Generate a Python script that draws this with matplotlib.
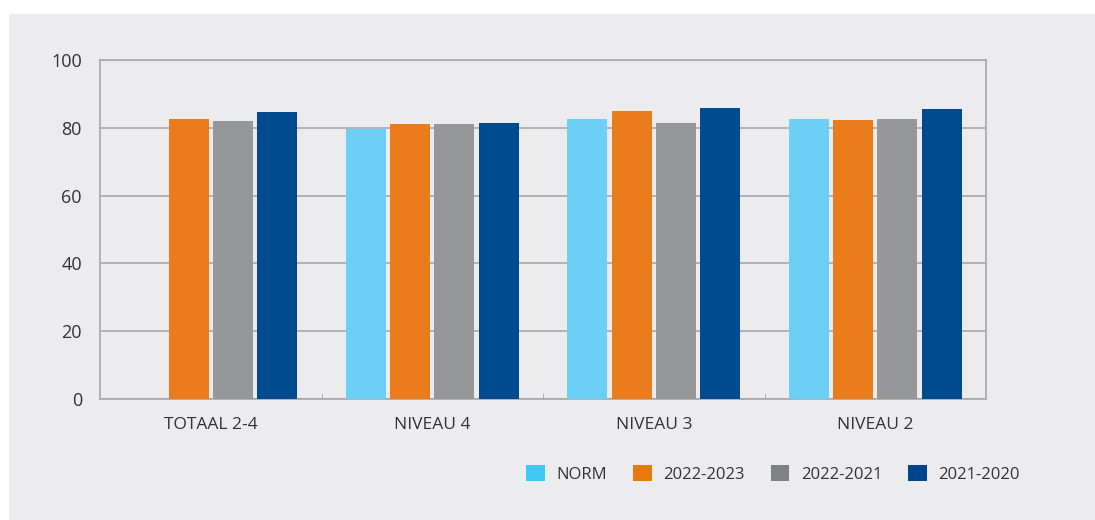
import numpy as np
import matplotlib.pyplot as plt
from matplotlib.patches import Rectangle, Patch

categories = ["TOTAAL 2-4", "NIVEAU 4", "NIVEAU 3", "NIVEAU 2"]
series_names = ["NORM", "2022-2023", "2022-2021", "2021-2020"]
norm = [np.nan, 79.6, 82.6, 82.6]
y2022_2023 = [82.6, 81.1, 85.0, 82.3]
y2022_2021 = [82.0, 81.1, 81.4, 82.6]
y2021_2020 = [84.7, 81.4, 85.8, 85.6]

bar_colors = ["#6ccff6", "#eb7c1e", "#969799", "#004a90"]
legend_colors = ["#3fc8f4", "#e67a10", "#808185", "#004589"]
bg = "#ececee"
grid_c = "#a8a8aa"
text_c = "#333333"

plt.rcParams["font.family"] = ["Open Sans", "DejaVu Sans"]

fig = plt.figure(figsize=(10.95, 5.2), dpi=100)
fig.patch.set_facecolor("white")
# grey panel, white strip on top and left
fig.add_artist(Rectangle((9 / 1095, 0), 1, 1 - 14 / 520, transform=fig.transFigure,
                         facecolor=bg, edgecolor="none", zorder=-10))

ax = fig.add_axes([100 / 1095, 1 - 399 / 520, 886 / 1095, 339 / 520])
ax.set_facecolor(bg)

x = np.arange(len(categories))
step = 0.2
width = 0.18
all_series = [norm, y2022_2023, y2022_2021, y2021_2020]
for i, vals in enumerate(all_series):
    ax.bar(x + (i - 1.5) * step, vals, width, color=bar_colors[i], zorder=3)

ax.set_xlim(-0.5, len(categories) - 0.5)
ax.set_ylim(0, 100)
ax.set_yticks([0, 20, 40, 60, 80, 100])
ax.yaxis.grid(True, color=grid_c, linewidth=1.2, zorder=0)
ax.tick_params(axis="y", length=0, labelsize=13, labelcolor=text_c, pad=13)

ax.set_xticks(x)
ax.set_xticklabels(categories)
ax.tick_params(axis="x", length=0, labelsize=12.5, labelcolor=text_c, pad=13)
ax.set_xticks(np.arange(0.5, len(categories) - 1, 1), minor=True)
ax.tick_params(axis="x", which="minor", length=4, direction="in", color=grid_c)

for s in ["left", "right", "top", "bottom"]:
    ax.spines[s].set_color(grid_c)
    ax.spines[s].set_linewidth(1.2)

handles = [Patch(facecolor=c, edgecolor="none") for c in legend_colors]
fig.legend(handles, series_names, loc="center", bbox_to_anchor=(773 / 1095, 1 - 474 / 520),
           ncol=4, frameon=False, fontsize=12, handlelength=1.12, handleheight=1.12,
           columnspacing=1.55, handletextpad=0.7, labelcolor=text_c)

fig.savefig("out.png", dpi=100, facecolor=fig.get_facecolor())
